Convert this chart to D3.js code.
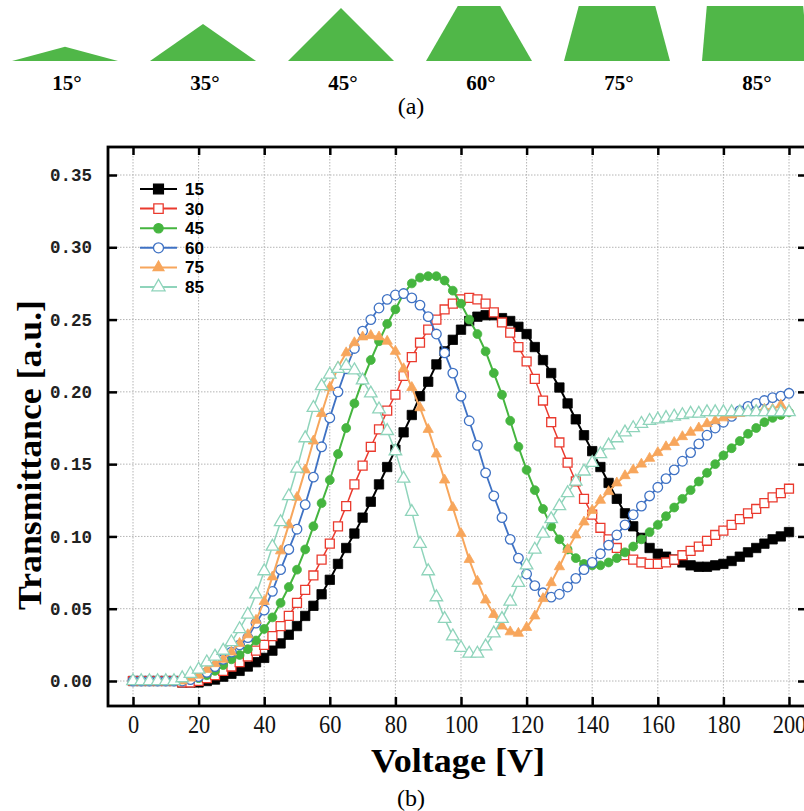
<!DOCTYPE html>
<html><head><meta charset="utf-8">
<script src="https://cdn.jsdelivr.net/npm/d3@7"></script>
<style>body{margin:0;background:#fff}svg{display:block}</style>
</head><body>
<svg id="c" width="804" height="811"></svg>
<script>
// ---------- data ----------
const shapeAngles = [15, 35, 45, 60, 75, 85];
const seriesNames = ["15", "30", "45", "60", "75", "85"];
const voltage = [0,2.5,5,7.5,10,12.5,15,17.5,20,22.5,25,27.5,30,32.5,35,37.5,40,42.5,45,47.5,50,52.5,55,57.5,60,62.5,65,67.5,70,72.5,75,77.5,80,82.5,85,87.5,90,92.5,95,97.5,100,102.5,105,107.5,110,112.5,115,117.5,120,122.5,125,127.5,130,132.5,135,137.5,140,142.5,145,147.5,150,152.5,155,157.5,160,162.5,165,167.5,170,172.5,175,177.5,180,182.5,185,187.5,190,192.5,195,197.5,200];
const t15 = [0,0,0,0,0,0,-0.001,-0.001,-0.001,0.000,0.001,0.003,0.005,0.007,0.010,0.013,0.016,0.021,0.026,0.032,0.038,0.045,0.052,0.060,0.070,0.081,0.092,0.102,0.113,0.124,0.136,0.148,0.160,0.172,0.184,0.197,0.207,0.219,0.228,0.236,0.243,0.249,0.252,0.253,0.253,0.251,0.249,0.245,0.240,0.231,0.222,0.213,0.203,0.192,0.181,0.170,0.159,0.148,0.137,0.126,0.116,0.107,0.099,0.092,0.088,0.086,0.084,0.082,0.080,0.079,0.079,0.080,0.081,0.083,0.086,0.089,0.092,0.095,0.098,0.100,0.103];
const t30 = [0,0,0,0,0,0,-0.001,-0.001,0.000,0.002,0.004,0.007,0.010,0.013,0.017,0.021,0.025,0.031,0.038,0.045,0.054,0.063,0.073,0.084,0.095,0.107,0.121,0.136,0.149,0.162,0.174,0.187,0.198,0.211,0.224,0.234,0.243,0.250,0.257,0.261,0.264,0.265,0.264,0.261,0.255,0.248,0.241,0.231,0.221,0.209,0.194,0.179,0.165,0.151,0.138,0.126,0.115,0.106,0.098,0.092,0.087,0.084,0.082,0.081,0.081,0.082,0.084,0.087,0.090,0.093,0.097,0.101,0.104,0.108,0.112,0.116,0.119,0.123,0.127,0.130,0.133];
const t45 = [0,0,0,0,0,0,0.000,0.001,0.002,0.004,0.007,0.011,0.015,0.018,0.022,0.028,0.036,0.044,0.054,0.065,0.077,0.091,0.107,0.123,0.139,0.157,0.175,0.192,0.208,0.222,0.235,0.247,0.257,0.268,0.275,0.279,0.280,0.280,0.277,0.270,0.261,0.250,0.240,0.228,0.213,0.198,0.180,0.162,0.146,0.132,0.119,0.107,0.098,0.091,0.085,0.081,0.080,0.080,0.082,0.085,0.089,0.093,0.098,0.103,0.108,0.114,0.120,0.126,0.132,0.138,0.144,0.150,0.156,0.161,0.166,0.171,0.175,0.179,0.182,0.184,0.186];
const t60 = [0,0,0,0,0,0,0.000,0.001,0.003,0.006,0.010,0.015,0.020,0.025,0.030,0.040,0.049,0.062,0.077,0.091,0.105,0.122,0.141,0.162,0.182,0.200,0.216,0.230,0.242,0.250,0.258,0.264,0.267,0.268,0.265,0.260,0.252,0.240,0.227,0.213,0.197,0.180,0.163,0.144,0.128,0.113,0.098,0.085,0.074,0.066,0.061,0.058,0.060,0.065,0.071,0.077,0.082,0.088,0.094,0.101,0.108,0.115,0.121,0.128,0.134,0.140,0.146,0.152,0.158,0.164,0.170,0.175,0.179,0.183,0.187,0.190,0.192,0.194,0.196,0.197,0.199];
const t75 = [0,0,0,0,0,0,0.000,0.002,0.004,0.008,0.012,0.015,0.020,0.026,0.032,0.042,0.055,0.072,0.090,0.108,0.127,0.146,0.166,0.185,0.203,0.217,0.227,0.234,0.238,0.239,0.238,0.235,0.228,0.216,0.203,0.189,0.174,0.157,0.139,0.120,0.102,0.084,0.069,0.056,0.046,0.038,0.034,0.033,0.037,0.045,0.057,0.068,0.079,0.091,0.101,0.110,0.118,0.125,0.131,0.137,0.142,0.146,0.150,0.154,0.158,0.162,0.165,0.169,0.172,0.175,0.178,0.180,0.182,0.184,0.185,0.186,0.187,0.188,0.188,0.191,0.187];
const t85 = [0,0,0,0,0,0,0.002,0.005,0.008,0.013,0.017,0.021,0.027,0.036,0.046,0.060,0.076,0.093,0.110,0.128,0.147,0.168,0.189,0.204,0.212,0.216,0.218,0.215,0.208,0.199,0.188,0.173,0.159,0.140,0.117,0.095,0.076,0.058,0.043,0.031,0.023,0.019,0.019,0.024,0.033,0.043,0.055,0.068,0.080,0.091,0.102,0.112,0.121,0.130,0.138,0.145,0.151,0.157,0.163,0.168,0.172,0.175,0.178,0.180,0.181,0.182,0.183,0.184,0.185,0.185,0.186,0.186,0.186,0.186,0.186,0.186,0.186,0.186,0.186,0.186,0.186];
const xTicks = [0,20,40,60,80,100,120,140,160,180,200];
const yTicks = [0,0.05,0.10,0.15,0.20,0.25,0.30,0.35];

// ---------- styles ----------
const styles = [
  {color:"#000000", sym:d3.symbolSquare, size:88, fill:true, lw:2},
  {color:"#ea3a2e", sym:d3.symbolSquare, size:80, fill:false, lw:1.5},
  {color:"#45b53f", sym:d3.symbolCircle, size:62, fill:true, lw:2},
  {color:"#3f72c4", sym:d3.symbolCircle, size:72, fill:false, lw:1.8},
  {color:"#f7a65c", sym:d3.symbolTriangle, size:46, fill:true, lw:2},
  {color:"#8fd4bb", sym:d3.symbolTriangle, size:68, fill:false, lw:1.5}
];
const seriesVals = [t15, t30, t45, t60, t75, t85];

const svg = d3.select("#c");

// ---------- panel (a) ----------
const shapeX = d3.scalePoint().domain(shapeAngles).range([65, 755]);
const baseY = 61, baseW = 106, maxH = 55;
const ga = svg.append("g");
shapeAngles.forEach(a => {
  const cx = shapeX(a);
  const rad = a * Math.PI / 180;
  const fullH = Math.tan(rad) * baseW / 2;
  let pts;
  if (fullH <= maxH) {
    pts = [[cx - baseW/2, baseY], [cx, baseY - fullH], [cx + baseW/2, baseY]];
  } else {
    const inset = maxH / Math.tan(rad);
    pts = [[cx - baseW/2, baseY], [cx - baseW/2 + inset, baseY - maxH], [cx + baseW/2 - inset, baseY - maxH], [cx + baseW/2, baseY]];
  }
  ga.append("path").attr("d", d3.line()(pts) + "Z").attr("fill", "#50b748");
  ga.append("text").attr("x", cx + 2).attr("y", 90).attr("text-anchor", "middle")
    .attr("font-family", "Liberation Serif, serif").attr("font-weight", "bold").attr("font-size", 21)
    .text(a + "°");
});
svg.append("text").attr("x", 411).attr("y", 114).attr("text-anchor", "middle")
  .attr("font-family", "Liberation Serif, serif").attr("font-size", 24).text("(a)");

// ---------- panel (b) ----------
const L = 108, R = 806, T = 147, B = 706;
const x = d3.scaleLinear().domain([0, 200]).range([133, 789]);
const y = d3.scaleLinear().domain([0, 0.35]).range([681, 175]);

const grid = svg.append("g").attr("stroke", "#b4b4b4").attr("stroke-width", 1).attr("stroke-dasharray", "1.5,1.5");
xTicks.forEach(v => grid.append("line").attr("x1", x(v)).attr("x2", x(v)).attr("y1", T).attr("y2", B));
yTicks.forEach(v => grid.append("line").attr("x1", L).attr("x2", R).attr("y1", y(v)).attr("y2", y(v)));

// series
const plot = svg.append("g");
seriesVals.forEach((vals, k) => {
  const st = styles[k];
  const data = voltage.map((v, i) => [v, vals[i]]);
  const g = plot.append("g");
  g.append("path").datum(data)
    .attr("d", d3.line().x(d => x(d[0])).y(d => y(d[1])))
    .attr("fill", "none").attr("stroke", st.color).attr("stroke-width", st.lw);
  g.selectAll("path.m").data(data).join("path").attr("class", "m")
    .attr("transform", d => `translate(${x(d[0])},${y(d[1])})`)
    .attr("d", d3.symbol().type(st.sym).size(st.size))
    .attr("fill", st.fill ? st.color : "#fff")
    .attr("stroke", st.color).attr("stroke-width", st.fill ? 0.8 : 1.3);
});

// axes
const axB = svg.append("g").attr("transform", `translate(0,${B})`)
  .call(d3.axisBottom(x).tickValues(xTicks).tickSize(-9).tickPadding(22).tickFormat(d3.format("d")));
axB.selectAll("text").attr("font-family", "Liberation Serif, serif").attr("font-size", 25)
  .attr("fill", "#111").attr("dy", "0.2em")
  .attr("textLength", d => String(d).length * 11.2).attr("lengthAdjust", "spacingAndGlyphs");
const axT = svg.append("g").attr("transform", `translate(0,${T})`)
  .call(d3.axisTop(x).tickValues(xTicks).tickSize(-8).tickFormat(""));
const axL = svg.append("g").attr("transform", `translate(${L},0)`)
  .call(d3.axisLeft(y).tickValues(yTicks).tickSize(-9).tickPadding(16).tickFormat(d3.format(".2f")));
axL.selectAll("text").attr("font-family", "Liberation Mono, monospace").attr("font-weight", "bold")
  .attr("font-size", 17.5).attr("fill", "#222");
const axR = svg.append("g").attr("transform", `translate(${R},0)`)
  .call(d3.axisRight(y).tickValues(yTicks).tickSize(-8).tickFormat(""));
[axB, axT, axL, axR].forEach(a => {
  a.select(".domain").remove();
  a.selectAll(".tick line").attr("stroke", "#000").attr("stroke-width", 2.5);
});
svg.append("rect").attr("x", L).attr("y", T).attr("width", R - L).attr("height", B - T)
  .attr("fill", "none").attr("stroke", "#000").attr("stroke-width", 2.8);

// axis titles
svg.append("text").attr("x", 458).attr("y", 772).attr("text-anchor", "middle")
  .attr("font-family", "Liberation Serif, serif").attr("font-weight", "bold").attr("font-size", 33)
  .attr("textLength", 174).attr("lengthAdjust", "spacingAndGlyphs").text("Voltage [V]");
svg.append("text").attr("transform", "translate(41,455) rotate(-90)").attr("text-anchor", "middle")
  .attr("font-family", "Liberation Serif, serif").attr("font-weight", "bold").attr("font-size", 33)
  .attr("textLength", 310).attr("lengthAdjust", "spacingAndGlyphs").text("Transmittance [a.u.]");
svg.append("text").attr("x", 411).attr("y", 806).attr("text-anchor", "middle")
  .attr("font-family", "Liberation Serif, serif").attr("font-size", 24).text("(b)");

// legend
const leg = svg.append("g");
seriesNames.forEach((name, k) => {
  const st = styles[k];
  const yy = 189 + k * 19.6;
  leg.append("line").attr("x1", 140).attr("x2", 177).attr("y1", yy).attr("y2", yy)
    .attr("stroke", st.color).attr("stroke-width", 2);
  leg.append("path").attr("transform", `translate(158.5,${yy})`)
    .attr("d", d3.symbol().type(st.sym).size(st.size * 1.1))
    .attr("fill", st.fill ? st.color : "#fff").attr("stroke", st.color).attr("stroke-width", 1.3);
  leg.append("text").attr("x", 185).attr("y", yy + 6)
    .attr("font-family", "Liberation Sans, Arial, sans-serif").attr("font-weight", "bold").attr("font-size", 17)
    .text(name);
});
</script>
</body></html>
